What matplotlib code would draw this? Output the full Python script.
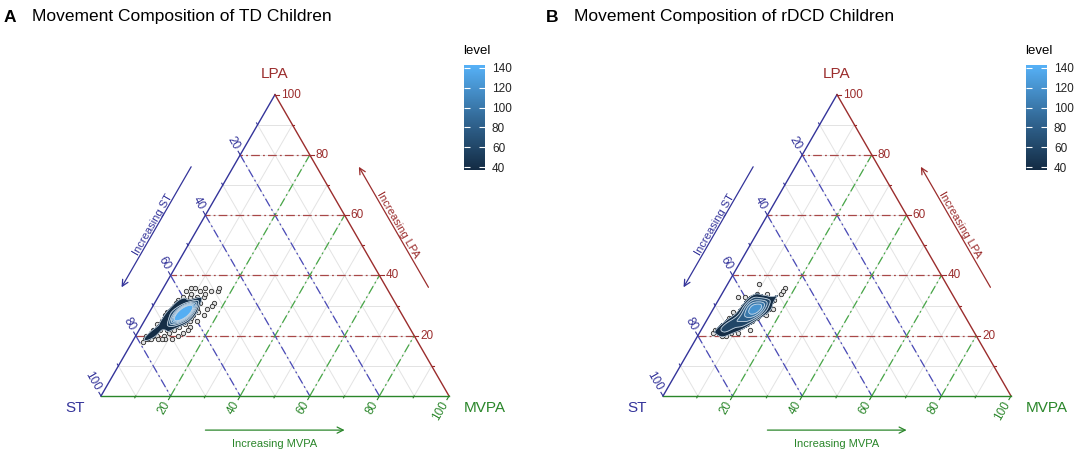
import numpy as np
import matplotlib
matplotlib.use('Agg')
import matplotlib.pyplot as plt
from matplotlib.colors import LinearSegmentedColormap, Normalize
from matplotlib.cm import ScalarMappable

plt.rcParams['font.family'] = ['Liberation Sans', 'DejaVu Sans']

# ---- data (percent of day) ----
td_st = [74, 74, 72, 72, 72, 70, 70, 70, 70, 68, 68, 68, 68, 68, 66, 66, 66, 66, 66, 66,
         64, 64, 64, 64, 64, 64, 64, 63, 63, 63, 63, 63, 62, 62, 62, 62, 62, 62, 62, 61,
         61, 61, 61, 60, 60, 60, 60, 60, 58, 58, 58, 58, 56, 56, 56, 54,
         65.5, 64.5, 63.5, 62.5, 61.5, 60.5, 59.5, 63.5, 62.5, 61.5, 64.5, 63.5, 62.5, 61.5,
         60.5, 65.5, 66.5, 67.5, 62, 63, 61, 64, 60, 59, 65, 62.5, 61.5, 63.5, 60.5, 64.5,
         66, 58.5, 62, 63, 61, 64, 62.5, 61.5, 60, 63.5,
         63, 60, 58, 56, 55, 54, 52, 51, 49, 48, 53, 57, 61, 65, 67, 62, 52, 53, 55, 57,
         60, 63, 64, 66, 68, 70, 72, 73, 58, 61, 75, 76, 77, 77, 76, 78, 75, 74, 79, 70,
         68, 72, 66, 74]
td_lpa = [21, 20, 23, 22, 20, 25, 23, 22, 21, 26, 25, 24, 23, 22, 28, 27, 26, 25, 24, 23,
          30, 28, 27, 26, 25, 24, 27, 29, 28, 27, 26, 25, 31, 29, 28, 27, 26, 28, 25, 30,
          29, 28, 27, 32, 30, 29, 28, 27, 33, 31, 30, 29, 33, 32, 31, 33,
          25.5, 26.5, 27, 27.5, 28, 28.5, 29, 26, 26.5, 27, 27.5, 28.5, 29, 29.5,
          29.5, 26.5, 25, 24.5, 27.5, 27.5, 28.5, 26.5, 28.5, 29.5, 25.5, 28, 28.5, 26.5, 29, 25.5,
          25.5, 30, 28.5, 26.5, 29, 27, 27, 27.5, 29.5, 27.5,
          31, 33, 35, 36, 36, 35, 36, 35, 35, 36, 34, 34, 31, 29, 28, 32, 31, 30, 29, 27,
          25, 23, 22, 21, 20, 19, 19, 19, 28, 26, 20, 20, 19, 20, 19, 19, 21, 19, 18, 25,
          27, 24, 28, 22]
td_mvpa = [5, 6, 5, 6, 8, 5, 7, 8, 9, 6, 7, 8, 9, 10, 6, 7, 8, 9, 10, 11,
           6, 8, 9, 10, 11, 12, 9, 8, 9, 10, 11, 12, 7, 9, 10, 11, 12, 10, 13, 9,
           10, 11, 12, 8, 10, 11, 12, 13, 9, 11, 12, 13, 11, 12, 13, 13,
           9, 9, 9.5, 10, 10.5, 11, 11.5, 10.5, 11, 11.5, 8, 8, 8.5, 9,
           10, 8, 8.5, 8, 10.5, 9.5, 10.5, 9.5, 11.5, 11.5, 9.5, 9.5, 10, 10, 10.5, 10,
           8.5, 11.5, 9.5, 10.5, 10, 9, 10.5, 11, 10.5, 9,
           6, 7, 7, 8, 9, 11, 12, 14, 16, 16, 13, 9, 8, 6, 5, 6, 17, 17, 16, 16,
           15, 14, 14, 13, 12, 11, 9, 8, 14, 13, 5, 4, 4, 3, 5, 3, 4, 7, 3, 5,
           5, 4, 6, 4]

dcd_st = [73, 71, 71, 69, 69, 67, 67, 65, 65, 65, 63, 63, 63, 61, 61, 61, 61, 60, 60, 60,
          60, 60, 59, 59, 59, 59, 59, 58, 58, 58, 58, 58, 57, 57, 57, 56, 56, 55,
          75, 74, 73, 72, 70, 68, 66, 64, 64, 62, 60, 57, 55, 54, 52, 49, 47, 48, 54, 62,
          60, 58, 66, 68, 70, 53, 56]
dcd_lpa = [21, 22, 23, 23, 24, 24, 25, 25, 26, 24, 27, 26, 28, 28, 27, 29, 30, 29, 28, 30,
           27, 31, 29, 30, 28, 31, 27, 30, 29, 31, 28, 32, 30, 31, 29, 31, 30, 31,
           21, 22, 20, 20, 21, 21, 23, 22, 24, 25, 26, 27, 29, 29, 32, 34, 36, 35, 37, 33,
           33, 33, 28, 26, 24, 34, 34]
dcd_mvpa = [6, 7, 6, 8, 7, 9, 8, 10, 9, 11, 10, 11, 9, 11, 12, 10, 9, 11, 12, 10,
            13, 9, 12, 11, 13, 10, 14, 12, 13, 11, 14, 10, 13, 12, 14, 13, 14, 14,
            4, 4, 7, 8, 9, 11, 11, 14, 12, 13, 14, 16, 16, 17, 16, 17, 17, 17, 9, 5,
            7, 9, 6, 6, 6, 13, 10]

tick_vals = [20, 40, 60, 80, 100]
levels = [40, 60, 80, 100, 120, 140]
cbar_ticks = [40, 60, 80, 100, 120, 140]

# ---- styling ----
W, H = 1084, 455
UNIT = 348.0          # triangle edge in pixels
BASE_Y = 59.0         # bottom edge, pixels from figure bottom
h = np.sqrt(3) / 2

col_st = '#34349a'
col_lpa = '#9b2d2d'
col_mvpa = '#2a862a'
grid_st = '#4a4ab8'
grid_lpa = '#a84848'
grid_mvpa = '#48a848'
dashdot = (0, (7, 2.5, 1.5, 2.5))

cmap = LinearSegmentedColormap.from_list('gg', ['#132B43', '#336A98', '#56B1F7'])
norm = Normalize(37.4, 142.6)


def tern2xy(st, lpa, mvpa):
    st = np.asarray(st, float)
    lpa = np.asarray(lpa, float)
    mvpa = np.asarray(mvpa, float)
    tot = st + lpa + mvpa
    return mvpa / tot + lpa / tot / 2, lpa / tot * h


def kde(px, py, gx, gy, bw=1.0):
    xy = np.vstack([px, py])
    n = xy.shape[1]
    f = n ** (-1 / 6) * bw
    cov = np.cov(xy) * f ** 2
    inv = np.linalg.inv(cov)
    c = 1 / (2 * np.pi * np.sqrt(np.linalg.det(cov)))
    dx = gx[..., None] - xy[0]
    dy = gy[..., None] - xy[1]
    q = inv[0, 0] * dx ** 2 + 2 * inv[0, 1] * dx * dy + inv[1, 1] * dy ** 2
    return c * np.exp(-0.5 * q).mean(axis=-1)


def draw_panel(left_px, title_px, letter, title, st, lpa, mvpa, bw):
    ax = fig.add_axes([(left_px - 100) / W, 0, 540 / W, 1])
    ax.set_xlim(-100 / UNIT, 440 / UNIT)
    ax.set_ylim(-BASE_Y / UNIT, (H - BASE_Y) / UNIT)
    ax.axis('off')

    # light minor grid
    for v in range(10, 100, 10):
        for a, b in [((v, 100 - v, 0), (v, 0, 100 - v)),
                     ((0, v, 100 - v), (100 - v, v, 0)),
                     ((100 - v, 0, v), (0, 100 - v, v))]:
            x0, y0 = tern2xy(*a)
            x1, y1 = tern2xy(*b)
            ax.plot([x0, x1], [y0, y1], color='#e3e3e3', lw=0.7, zorder=1)

    # major dash-dot grid
    for v in tick_vals[:-1]:
        x0, y0 = tern2xy(v, 100 - v, 0)
        x1, y1 = tern2xy(v, 0, 100 - v)
        ax.plot([x0, x1], [y0, y1], color=grid_st, lw=0.9, ls=dashdot, zorder=2)
        x0, y0 = tern2xy(0, v, 100 - v)
        x1, y1 = tern2xy(100 - v, v, 0)
        ax.plot([x0, x1], [y0, y1], color=grid_lpa, lw=0.9, ls=dashdot, zorder=2)
        x0, y0 = tern2xy(100 - v, 0, v)
        x1, y1 = tern2xy(0, 100 - v, v)
        ax.plot([x0, x1], [y0, y1], color=grid_mvpa, lw=0.9, ls=dashdot, zorder=2)

    # triangle edges
    ax.plot([0, 0.5], [0, h], color=col_st, lw=1.0, zorder=3)
    ax.plot([0.5, 1], [h, 0], color=col_lpa, lw=1.0, zorder=3)
    ax.plot([0, 1], [0, 0], color=col_mvpa, lw=1.0, zorder=3)

    # ticks and tick labels
    d_st = np.array([-0.5, h])
    d_mv = np.array([-0.5, -h])
    for v in range(10, 101, 10):
        major = v % 20 == 0
        ln = 0.012 if major else 0.006
        p = np.array(tern2xy(0, v, 100 - v))
        ax.plot([p[0], p[0] + ln], [p[1], p[1]], color=col_lpa, lw=0.8, zorder=3)
        if major:
            ax.text(p[0] + 0.017, p[1], str(v), color=col_lpa, size=8.5,
                    ha='left', va='center')
        p = np.array(tern2xy(v, 100 - v, 0))
        q = p + d_st * ln
        ax.plot([p[0], q[0]], [p[1], q[1]], color=col_st, lw=0.8, zorder=3)
        if major:
            q = p + d_st * 0.02
            ax.text(q[0], q[1], str(v), color=col_st, size=8.5, rotation=-60,
                    rotation_mode='anchor', ha='right', va='center')
        p = np.array(tern2xy(100 - v, 0, v))
        q = p + d_mv * ln
        ax.plot([p[0], q[0]], [p[1], q[1]], color=col_mvpa, lw=0.8, zorder=3)
        if major:
            q = p + d_mv * 0.02
            ax.text(q[0], q[1], str(v), color=col_mvpa, size=8.5, rotation=60,
                    rotation_mode='anchor', ha='right', va='center')

    # vertex titles
    ax.text(0.5, h + 0.06, 'LPA', color=col_lpa, size=11, ha='center', va='center')
    ax.text(-0.075, -0.035, 'ST', color=col_st, size=11, ha='center', va='center')
    ax.text(1.103, -0.035, 'MVPA', color=col_mvpa, size=11, ha='center', va='center')

    # "Increasing" arrows
    off = 0.105
    n_l = np.array([-h, 0.5])
    n_r = np.array([h, 0.5])
    s = np.array(tern2xy(30, 70, 0)) + n_l * off
    e = np.array(tern2xy(70, 30, 0)) + n_l * off
    ax.annotate('', xy=e, xytext=s, arrowprops=dict(arrowstyle='->', color=col_st, lw=0.9,
                shrinkA=0, shrinkB=0, mutation_scale=11))
    m = (s + e) / 2 + n_l * 0.011
    ax.text(m[0], m[1], 'Increasing ST', color=col_st, size=8, rotation=60,
            ha='center', va='center', rotation_mode='anchor')
    s = np.array(tern2xy(0, 30, 70)) + n_r * off
    e = np.array(tern2xy(0, 70, 30)) + n_r * off
    ax.annotate('', xy=e, xytext=s, arrowprops=dict(arrowstyle='->', color=col_lpa, lw=0.9,
                shrinkA=0, shrinkB=0, mutation_scale=11))
    m = (s + e) / 2 + n_r * 0.013
    ax.text(m[0], m[1], 'Increasing LPA', color=col_lpa, size=8, rotation=-60,
            ha='center', va='center', rotation_mode='anchor')
    s = np.array(tern2xy(70, 0, 30)) + np.array([0, -0.098])
    e = np.array(tern2xy(30, 0, 70)) + np.array([0, -0.098])
    ax.annotate('', xy=e, xytext=s, arrowprops=dict(arrowstyle='->', color=col_mvpa, lw=0.9,
                shrinkA=0, shrinkB=0, mutation_scale=11))
    ax.text(0.5, -0.098 - 0.04, 'Increasing MVPA', color=col_mvpa, size=8,
            ha='center', va='center')

    # points + density
    px, py = tern2xy(st, lpa, mvpa)
    ax.scatter(px, py, s=10, facecolors='#e2e2e2', edgecolors='#2a2a2a',
               linewidths=0.6, zorder=4)
    gx, gy = np.meshgrid(np.linspace(0.02, 0.55, 300), np.linspace(0.0, 0.45, 300))
    dens = kde(px, py, gx, gy, bw)
    top = max(dens.max(), levels[-1] + 1) + 1
    lv = levels + [top]
    ax.contourf(gx, gy, dens, levels=lv, colors=[cmap(norm(l)) for l in levels], zorder=5)
    ax.contour(gx, gy, dens, levels=levels, colors='#c9d6e2', linewidths=0.6, zorder=6)

    # title
    fig.text(title_px / W, 1 - 17 / H, letter, size=12.5, weight='bold', ha='left', va='center')
    fig.text((title_px + 28) / W, 1 - 17 / H, title, size=12.5, ha='left', va='center')

    # colour bar legend
    cax = fig.add_axes([(left_px + 363) / W, (H - 170) / H, 21 / W, 105 / H])
    cb = fig.colorbar(ScalarMappable(norm=norm, cmap=cmap), cax=cax, ticks=cbar_ticks)
    cb.outline.set_visible(False)
    cax.yaxis.set_ticks_position('both')
    cax.tick_params(direction='in', color='white', length=4, width=0.8,
                    labelsize=8.5, labelleft=False, labelright=True, pad=5, labelcolor='#222222')
    fig.text((left_px + 362) / W, 1 - 51 / H, 'level', size=9.5, ha='left', va='center')


fig = plt.figure(figsize=(W / 100, H / 100), dpi=100)
draw_panel(101, 4, 'A', 'Movement Composition of TD Children', td_st, td_lpa, td_mvpa, 0.85)
draw_panel(663, 546, 'B', 'Movement Composition of rDCD Children', dcd_st, dcd_lpa, dcd_mvpa, 0.85)
fig.savefig('out.png', dpi=100)
